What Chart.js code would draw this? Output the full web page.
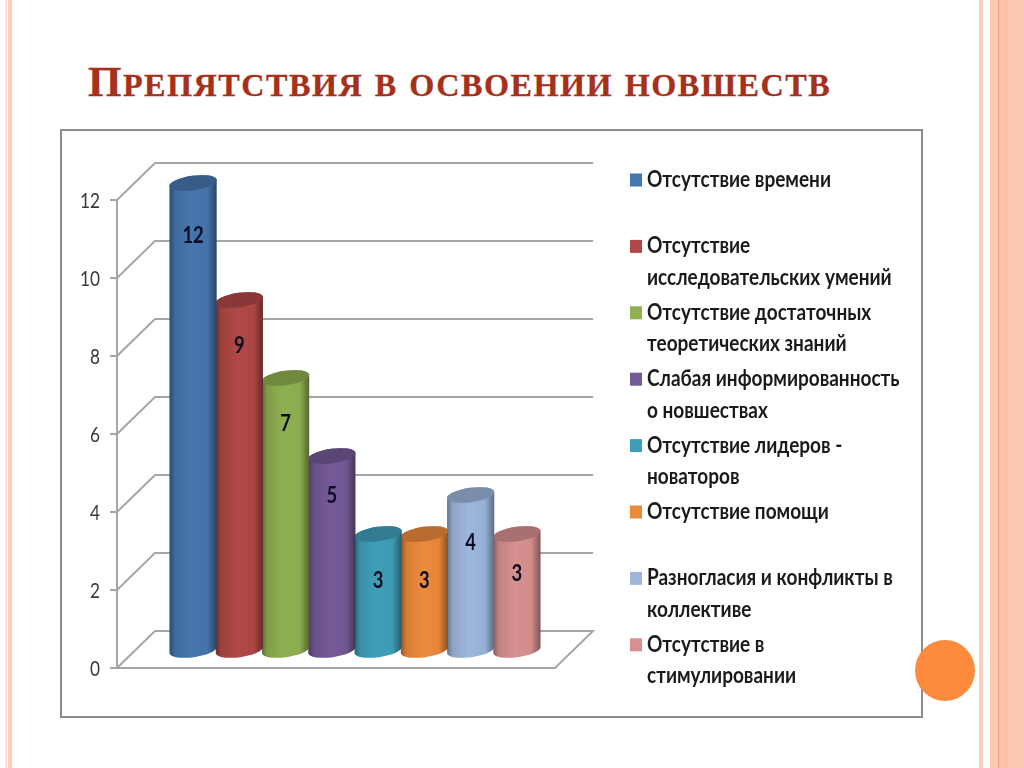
<!DOCTYPE html>
<html lang="ru">
<head>
<meta charset="utf-8">
<style>
html,body{margin:0;padding:0;width:1024px;height:768px;overflow:hidden;background:#fff}
.s{position:absolute;top:0;height:768px}
#panel{position:absolute;left:60px;top:129px;width:859px;height:585px;border:2px solid #8c8c8c;background:#fff;box-sizing:content-box}
#title{position:absolute;left:88px;top:57px;margin:0;font:bold 32.2px "Liberation Serif",serif;text-transform:uppercase;color:#a5301b;letter-spacing:1.5px;word-spacing:2px;white-space:nowrap;-webkit-text-stroke:.3px #a5301b}
#title::first-letter{font-size:43px}
#dot{position:absolute;left:915px;top:640px;width:60px;height:61px;border-radius:50%;background:#fd8b3e;z-index:3}
canvas{position:absolute;left:0;top:0}
</style>
<script src="https://cdn.jsdelivr.net/npm/chart.js@4"></script>
</head>
<body>
<div class="s" style="left:5px;width:2px;background:#fde3da"></div>
<div class="s" style="left:8px;width:4px;background:#fdcdbd"></div>
<div class="s" style="left:979px;width:4px;background:#fdcdbd"></div>
<div class="s" style="left:990px;width:8px;background:#fdc9b2"></div>
<div class="s" style="left:998px;width:1px;background:#e5a080"></div>
<div class="s" style="left:999px;width:9px;background:#fcc1a7"></div>
<div class="s" style="left:1008px;width:16px;background:#fdc9b2"></div>
<div id="panel"></div>
<h1 id="title">Препятствия в освоении новшеств</h1>
<div style="position:absolute;left:0;top:0;width:1024px;height:768px"><canvas id="c" width="1024" height="768"></canvas></div>
<div id="dot"></div>
<script>
const categories = [""];
const seriesLegendLines = [
  ["Отсутствие времени"],
  ["Отсутствие", "исследовательских умений"],
  ["Отсутствие достаточных", "теоретических знаний"],
  ["Слабая информированность", "о новшествах"],
  ["Отсутствие лидеров -", "новаторов"],
  ["Отсутствие помощи"],
  ["Разногласия и конфликты в", "коллективе"],
  ["Отсутствие в", "стимулировании"]
];
const seriesValues = [12, 9, 7, 5, 3, 3, 4, 3];
const seriesColors = ["#4676ae", "#b04846", "#8fb050", "#745a96", "#3f9fb8", "#ec8a3c", "#9cb6dc", "#d89090"];
const yTicks = [0, 2, 4, 6, 8, 10, 12];

const DEPTH_X = 38, DEPTH_Y = 37, BAR_DX = 19, BAR_DY = 17;
const TILT = -8 * Math.PI / 180, RY = 7.2, RX_EXTRA = 0.7;
const labelDrop = [53, 46, 46, 40, 47, 47, 48, 40];
const TEXT_FONT = '"Lato","Open Sans",sans-serif';

function shade(hex, f) {
  const n = parseInt(hex.slice(1), 16);
  const c = [n >> 16 & 255, n >> 8 & 255, n & 255].map(v => Math.round(v * f));
  return `rgb(${c[0]},${c[1]},${c[2]})`;
}

function squeezedText(ctx, text, x, y, sx) {
  ctx.save();
  ctx.translate(x, y);
  ctx.scale(sx, 1);
  ctx.fillText(text, 0, 0);
  ctx.restore();
}

const plane = {
  id: 'plane',
  beforeDatasetsDraw(chart) {
    const { ctx, scales: { x, y } } = chart;
    ctx.save();
    ctx.strokeStyle = '#a6a6a6';
    ctx.lineWidth = 2;
    yTicks.forEach(t => {
      const py = y.getPixelForValue(t);
      ctx.beginPath();
      ctx.moveTo(x.left, py);
      ctx.lineTo(x.left + DEPTH_X, py - DEPTH_Y);
      ctx.lineTo(x.right + DEPTH_X, py - DEPTH_Y);
      if (t === 0) { ctx.lineTo(x.right, py); ctx.lineTo(x.left, py); }
      ctx.stroke();
    });
    ctx.fillStyle = '#3a3a3a';
    ctx.font = '400 21px ' + TEXT_FONT;
    ctx.textAlign = 'right';
    ctx.textBaseline = 'middle';
    y.ticks.forEach(t => {
      squeezedText(ctx, String(t.value), 100, y.getPixelForValue(t.value) + 1, .82);
    });
    ctx.restore();
  }
};

const cylinders = {
  id: 'cylinders',
  beforeDatasetDraw(chart, args) {
    const { ctx } = chart;
    const i = args.index;
    const el = chart.getDatasetMeta(i).data[0];
    const col = chart.data.datasets[i].backgroundColor;
    const cx = el.x + BAR_DX, top = el.y - BAR_DY, bot = el.base - BAR_DY, rx = el.width / 2 + RX_EXTRA;
    const g = ctx.createLinearGradient(cx - rx, 0, cx + rx, 0);
    g.addColorStop(0, shade(col, .62));
    g.addColorStop(.12, shade(col, .9));
    g.addColorStop(.45, shade(col, 1));
    g.addColorStop(.8, shade(col, .97));
    g.addColorStop(1, shade(col, .58));
    ctx.save();
    ctx.beginPath();
    ctx.ellipse(cx, bot, rx, RY, TILT, 0, Math.PI);
    ctx.ellipse(cx, top, rx, RY, TILT, Math.PI, 2 * Math.PI);
    ctx.closePath();
    ctx.fillStyle = g;
    ctx.fill();
    ctx.beginPath();
    ctx.ellipse(cx, top, rx, RY, TILT, 0, 2 * Math.PI);
    ctx.fillStyle = shade(col, .78);
    ctx.fill();
    ctx.fillStyle = '#0b0b22';
    ctx.font = '700 23px ' + TEXT_FONT;
    ctx.textAlign = 'center';
    ctx.textBaseline = 'middle';
    squeezedText(ctx, String(chart.data.datasets[i].data[0]), cx, top + labelDrop[i], .8);
    ctx.restore();
    return false;
  }
};

const sideLegend = {
  id: 'sideLegend',
  afterDraw(chart) {
    const { ctx } = chart;
    ctx.save();
    ctx.font = '700 22px ' + TEXT_FONT;
    ctx.textBaseline = 'middle';
    const sx = 184 / ctx.measureText(seriesLegendLines[0][0]).width;
    seriesLegendLines.forEach((lines, i) => {
      const y0 = 180 + i * 66.4;
      ctx.fillStyle = seriesColors[i];
      ctx.fillRect(630, y0 - 6.5, 12, 13);
      ctx.fillStyle = '#1a1a1a';
      lines.forEach((t, k) => squeezedText(ctx, t, 647, y0 + k * 31.5, sx));
    });
    ctx.restore();
  }
};

new Chart(document.getElementById('c'), {
  type: 'bar',
  data: {
    labels: categories,
    datasets: seriesValues.map((v, i) => ({
      label: seriesLegendLines[i].join(' '),
      data: [v],
      backgroundColor: seriesColors[i]
    }))
  },
  plugins: [plane, cylinders, sideLegend],
  options: {
    responsive: false,
    animation: false,
    layout: { padding: { left: 0, top: 200, right: 469, bottom: 100 } },
    datasets: { bar: { categoryPercentage: 0.845, barPercentage: 1 } },
    plugins: { legend: { display: false }, tooltip: { enabled: false }, title: { display: false } },
    scales: {
      x: { display: false },
      y: {
        min: 0, max: 12,
        afterFit(s) { s.width = 117; },
        afterBuildTicks(s) { s.ticks = yTicks.map(value => ({ value })); },
        border: { display: true, color: '#a6a6a6', width: 2 },
        grid: { drawOnChartArea: false, drawTicks: true, tickLength: 7, color: '#a6a6a6', lineWidth: 2 },
        ticks: { display: false }
      }
    }
  }
});
</script>
</body>
</html>
